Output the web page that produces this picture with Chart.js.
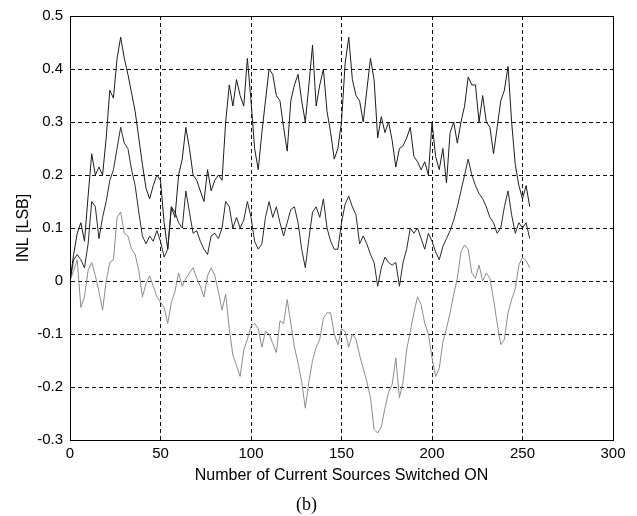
<!DOCTYPE html>
<html>
<head>
<meta charset="utf-8">
<script src="https://cdn.jsdelivr.net/npm/chart.js@4"></script>
<style>
  body { margin: 0; background: #fff; }
  #inl-chart { display: block; }
</style>
</head>
<body>
<canvas id="inl-chart" width="637" height="516"></canvas>
<script>
// sources switched on (every 2nd code)
const X_STEP = 2;
const sourceCount = Array.from({length: 128}, (_, i) => i * X_STEP);

// INL curves [LSB]
const inlUpper = [
  0.0, 0.05, 0.09, 0.11, 0.075, 0.16, 0.24, 0.2, 0.215, 0.2,
  0.27, 0.36, 0.345, 0.42, 0.46, 0.42, 0.39, 0.355, 0.32, 0.27,
  0.22, 0.175, 0.155, 0.18, 0.2, 0.19, 0.11, 0.06, 0.14, 0.12,
  0.2, 0.23, 0.29, 0.25, 0.2, 0.19, 0.17, 0.15, 0.21, 0.17,
  0.19, 0.2, 0.19, 0.3, 0.37, 0.33, 0.38, 0.35, 0.33, 0.42,
  0.34, 0.25, 0.21, 0.28, 0.34, 0.4, 0.39, 0.35, 0.34, 0.29,
  0.245, 0.34, 0.37, 0.39, 0.34, 0.3, 0.37, 0.445, 0.33, 0.37,
  0.4, 0.32, 0.28, 0.23, 0.25, 0.3, 0.41, 0.46, 0.38, 0.35,
  0.34, 0.3, 0.36, 0.42, 0.38, 0.27, 0.31, 0.28, 0.3, 0.265,
  0.215, 0.25, 0.255, 0.27, 0.29, 0.235, 0.225, 0.21, 0.225, 0.2,
  0.3, 0.235, 0.21, 0.25, 0.185, 0.28, 0.3, 0.26, 0.3, 0.33,
  0.385, 0.37, 0.37, 0.3, 0.35, 0.3, 0.29, 0.24, 0.29, 0.34,
  0.36, 0.405, 0.3, 0.22, 0.18, 0.155, 0.18, 0.14
];
const inlMiddle = [
  0.0, 0.04, 0.05, 0.04, 0.025, 0.07, 0.15, 0.14, 0.08, 0.12,
  0.15, 0.19, 0.21, 0.25, 0.29, 0.26, 0.25, 0.21, 0.18, 0.13,
  0.085, 0.07, 0.085, 0.075, 0.095, 0.075, 0.045, 0.06, 0.14, 0.13,
  0.11, 0.1, 0.17, 0.13, 0.09, 0.095, 0.075, 0.06, 0.05, 0.085,
  0.09, 0.08, 0.1, 0.15, 0.14, 0.1, 0.12, 0.1, 0.115, 0.15,
  0.12, 0.075, 0.06, 0.07, 0.12, 0.15, 0.12, 0.14, 0.11, 0.085,
  0.11, 0.135, 0.14, 0.11, 0.06, 0.025, 0.08, 0.13, 0.14, 0.12,
  0.155, 0.1, 0.075, 0.06, 0.06, 0.11, 0.145, 0.16, 0.14, 0.125,
  0.07, 0.085, 0.07, 0.05, 0.035, -0.01, 0.025, 0.045, 0.035, 0.03,
  0.035, -0.01, 0.035, 0.06, 0.1, 0.09, 0.1, 0.08, 0.06, 0.09,
  0.075, 0.055, 0.04, 0.065, 0.08, 0.095, 0.115, 0.14, 0.17, 0.2,
  0.23, 0.2, 0.18, 0.165, 0.155, 0.14, 0.12, 0.11, 0.09, 0.1,
  0.14, 0.17, 0.125, 0.09, 0.11, 0.1, 0.11, 0.08
];
const inlLower = [
  0.0, 0.02, 0.04, -0.05, -0.03, 0.02, 0.035, 0.01, -0.02, -0.055,
  0.0, 0.035, 0.04, 0.12, 0.13, 0.09, 0.085, 0.06, 0.05, 0.02,
  -0.03, -0.005, 0.01, -0.01, -0.03, -0.04, -0.05, -0.08, -0.04, -0.02,
  0.015, -0.01, 0.005, 0.015, 0.025, 0.005, -0.01, -0.03, 0.01, 0.025,
  0.01, -0.02, -0.055, -0.025, -0.09, -0.14, -0.16, -0.18, -0.13, -0.11,
  -0.085, -0.08, -0.09, -0.125, -0.095, -0.1, -0.118, -0.135, -0.075, -0.08,
  -0.035, -0.08, -0.125, -0.155, -0.19, -0.24, -0.19, -0.15, -0.125, -0.11,
  -0.07, -0.06, -0.06, -0.1, -0.12, -0.09, -0.095, -0.125, -0.1, -0.11,
  -0.14, -0.165, -0.19, -0.22, -0.28, -0.287, -0.275, -0.24, -0.21, -0.195,
  -0.145, -0.22, -0.19, -0.13, -0.095, -0.06, -0.03, -0.045, -0.08, -0.1,
  -0.145, -0.18, -0.165, -0.115, -0.09, -0.06, -0.025, 0.005, 0.055, 0.068,
  0.06, 0.015, 0.005, 0.03, 0.0, 0.015, 0.005, -0.035, -0.08, -0.12,
  -0.11, -0.06, -0.035, -0.015, 0.03, 0.045, 0.038, 0.025
];

const toPoints = ys => ys.map((y, i) => ({x: sourceCount[i], y: y}));

// solid box round the plot area (matlab style)
const plotFrame = {
  id: 'plotFrame',
  afterDatasetsDraw(chart) {
    const a = chart.chartArea;
    const ctx = chart.ctx;
    ctx.save();
    ctx.setLineDash([]);
    ctx.strokeStyle = '#000';
    ctx.lineWidth = 1;
    ctx.strokeRect(Math.round(a.left) + 0.5, Math.round(a.top) + 0.5,
      Math.round(a.right - a.left), Math.round(a.bottom - a.top));
    ctx.restore();
  }
};

const sans = 'Liberation Sans, Arial, sans-serif';

new Chart('inl-chart', {
  type: 'line',
  data: {
    datasets: [
      {data: toPoints(inlUpper), borderColor: '#1c1c1c', borderWidth: 1},
      {data: toPoints(inlMiddle), borderColor: '#2a2a2a', borderWidth: 1},
      {data: toPoints(inlLower), borderColor: '#8c8c8c', borderWidth: 1}
    ]
  },
  options: {
    responsive: false,
    animation: false,
    elements: {point: {radius: 0}, line: {tension: 0}},
    layout: {padding: {left: 0, right: 24, top: 14, bottom: 0}},
    plugins: {
      legend: {display: false},
      tooltip: {enabled: false},
      title: {
        display: true,
        position: 'bottom',
        text: '(b)',
        color: '#000',
        font: {family: 'Liberation Serif, Times New Roman, serif', size: 18, weight: 'normal'},
        padding: {top: 4.8, bottom: 0}
      }
    },
    scales: {
      x: {
        type: 'linear',
        min: 0,
        max: 300,
        afterFit: s => { s.height = 49.6; },
        grid: {color: '#111', lineWidth: 1, drawTicks: false},
        border: {display: true, color: '#000', dash: [4, 3]},
        ticks: {stepSize: 50, padding: 5, color: '#000', font: {family: sans, size: 15}, maxRotation: 0},
        title: {
          display: true,
          text: 'Number of Current Sources Switched ON',
          color: '#000',
          font: {family: sans, size: 16},
          padding: {top: 0, bottom: 4}
        }
      },
      y: {
        min: -0.3,
        max: 0.5,
        afterFit: s => { s.width = 70; },
        grid: {color: '#111', lineWidth: 1, drawTicks: false},
        border: {display: true, color: '#000', dash: [4, 3]},
        ticks: {
          stepSize: 0.1,
          padding: 7,
          color: '#000',
          font: {family: sans, size: 15},
          callback: v => String(Math.round(v * 10) / 10)
        },
        title: {
          display: true,
          text: 'INL [LSB]',
          color: '#000',
          font: {family: sans, size: 16},
          padding: {top: 14, bottom: 0}
        }
      }
    }
  },
  plugins: [plotFrame]
});
</script>
</body>
</html>
